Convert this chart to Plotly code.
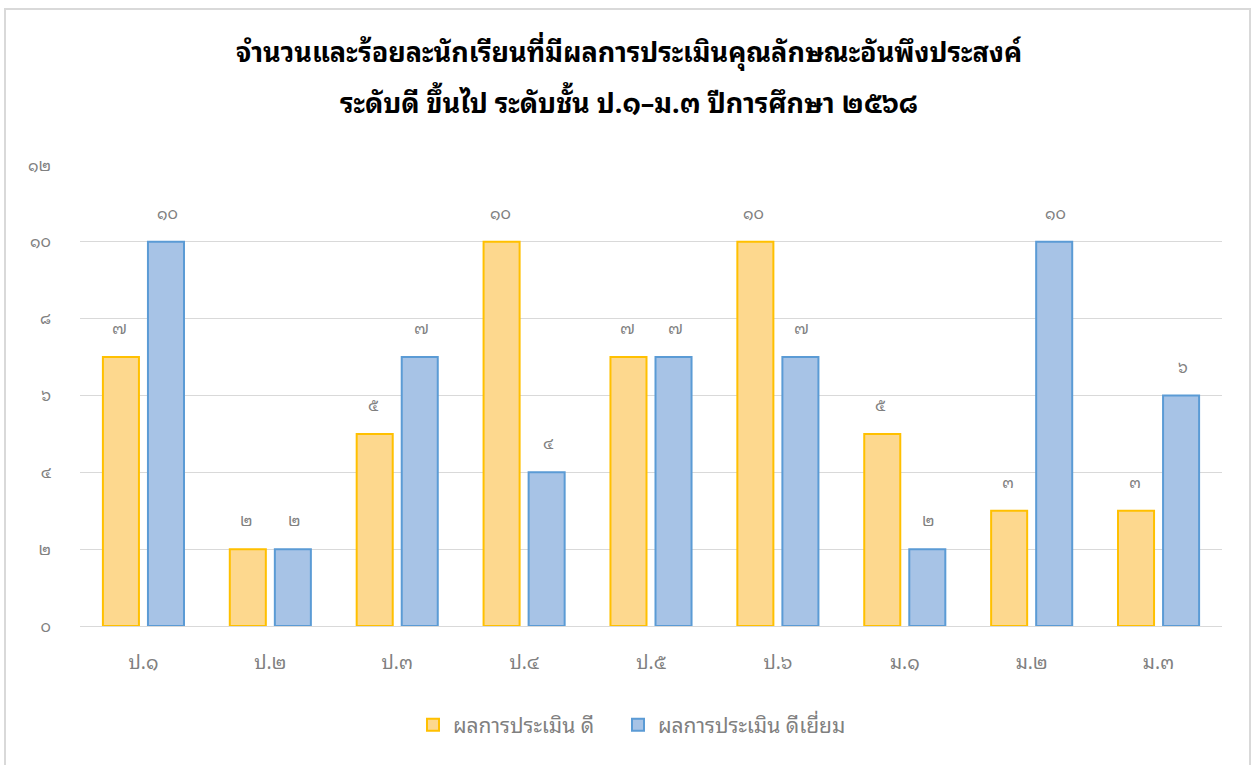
import plotly.graph_objects as go

categories = ["ป.๑", "ป.๒", "ป.๓", "ป.๔", "ป.๕", "ป.๖", "ม.๑", "ม.๒", "ม.๓"]
good = [7, 2, 5, 10, 7, 10, 5, 3, 3]
excellent = [10, 2, 7, 4, 7, 7, 2, 10, 6]
series_names = ["ผลการประเมิน ดี", "ผลการประเมิน ดีเยี่ยม"]
y_ticks = [0, 2, 4, 6, 8, 10, 12]
title_lines = [
    "จำนวนและร้อยละนักเรียนที่มีผลการประเมินคุณลักษณะอันพึงประสงค์",
    "ระดับดี ขึ้นไป ระดับชั้น ป.๑–ม.๓ ปีการศึกษา ๒๕๖๘",
]

thai_digits = "๐๑๒๓๔๕๖๗๘๙"
def th(n):
    return "".join(thai_digits[int(c)] for c in str(n))

FONT = "Noto Sans Thai Looped, Loma, Garuda, Tlwg Typo, Norasi, Noto Serif Thai, Noto Sans Thai, Noto Sans, sans-serif"
GRAY = "#808080"

W, H = 1253, 765
L, R, T, B = 80, 31, 165, 139
PW, PH = W - L - R, H - T - B

fig = go.Figure()
fig.add_trace(go.Bar(
    x=categories, y=good, name=series_names[0], legend="legend",
    marker=dict(color="#FDD88E", line=dict(color="#FFC000", width=2)),
))
fig.add_trace(go.Bar(
    x=categories, y=excellent, name=series_names[1], legend="legend2",
    marker=dict(color="#A7C3E6", line=dict(color="#5B9BD5", width=2)),
))

annotations = []
for vals, shift in ((good, -24), (excellent, 24)):
    for c, v in zip(categories, vals):
        annotations.append(dict(
            x=c, y=v, xref="x", yref="y", text=th(v), showarrow=False,
            xshift=shift, yshift=30, font=dict(size=16, color=GRAY, family=FONT),
        ))
for line, ypx in zip(title_lines, (49, 100)):
    annotations.append(dict(
        x=0.5 + (629 - (L + PW / 2)) / PW, y=(H - B - ypx) / PH, xref="paper", yref="paper",
        text="<b>" + line + "</b>", showarrow=False, xanchor="center", yanchor="middle",
        font=dict(size=27, color="#000000", family=FONT),
    ))

def legend_at(px):
    return dict(
        orientation="h", x=(px - L) / PW, xanchor="left",
        y=(H - B - 725) / PH, yanchor="middle",
        font=dict(size=21, color=GRAY, family=FONT),
    )

fig.update_layout(
    width=W, height=H,
    paper_bgcolor="white", plot_bgcolor="white",
    margin=dict(l=L, r=R, t=T, b=B),
    barmode="group", bargap=0.29, bargroupgap=0.2,
    showlegend=True,
    legend=legend_at(413),
    legend2=legend_at(618),
    xaxis=dict(
        showgrid=False, showline=True, linecolor="#D9D9D9", linewidth=1,
        tickfont=dict(size=19, color=GRAY, family=FONT), ticks="", ticklabelstandoff=19,
    ),
    yaxis=dict(
        range=[0, 12], tickvals=y_ticks, ticktext=[th(v) for v in y_ticks],
        showgrid=True, gridcolor="#D9D9D9", gridwidth=1, zeroline=False,
        tickfont=dict(size=16, color=GRAY, family=FONT), ticks="", ticklabelstandoff=28,
    ),
    annotations=annotations,
    shapes=[dict(type="rect", xref="paper", yref="paper",
                 x0=(5 - L) / PW, x1=(1250 - L) / PW,
                 y0=(H - B - 800) / PH, y1=(H - B - 9) / PH,
                 line=dict(color="#D9D9D9", width=2))],
)

fig.write_html("out.html", config={"displayModeBar": False},
               post_script="document.body.style.margin='0';")
